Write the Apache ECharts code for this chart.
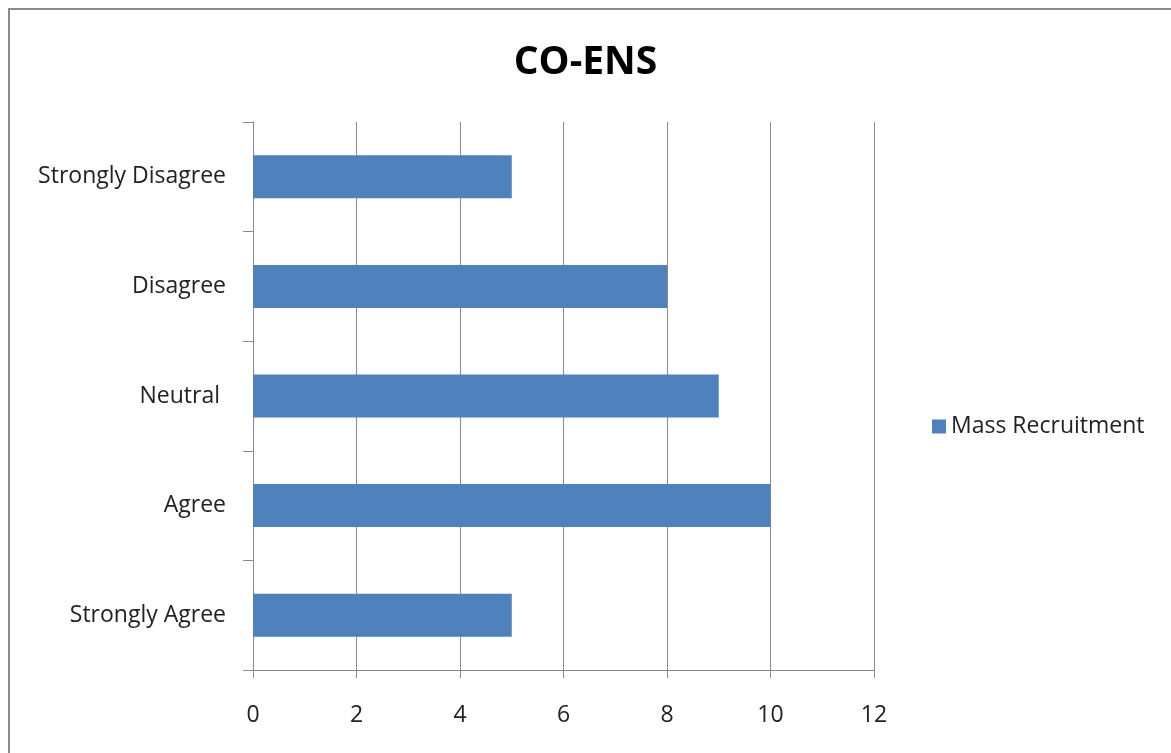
<!DOCTYPE html>
<html>
<head>
<meta charset="utf-8">
<script src="https://cdn.jsdelivr.net/npm/echarts@6/dist/echarts.min.js"></script>
<style>
  html, body { margin: 0; padding: 0; background: #fff; }
  #chart { width: 1171px; height: 753px; }
</style>
</head>
<body>
<div id="chart"></div>
<script>
const categories = ['Strongly Agree', 'Agree', 'Neutral ', 'Disagree', 'Strongly Disagree'];
const massRecruitment = [5, 10, 9, 8, 5];
const xMin = 0, xMax = 12, xStep = 2;

const font = '"Open Sans", Lato, sans-serif';
const gray = '#8a8a8a';

let chart = echarts.init(document.getElementById('chart'));
chart.setOption({
    animation: false,
    textStyle: { fontFamily: font },
    title: {
        text: 'CO-ENS',
        left: 'center',
        top: 38,
        textStyle: { fontSize: 39, fontWeight: 'bold', color: '#000', fontFamily: font }
    },
    graphic: [{
        type: 'rect',
        shape: { x: 9, y: 9, width: 1200, height: 800 },
        style: { fill: 'none', stroke: gray, lineWidth: 2 },
        silent: true
    }],
    legend: {
        left: 932,
        top: 415,
        padding: 0,
        itemWidth: 14,
        itemHeight: 14,
        itemGap: 7,
        icon: 'rect',
        textStyle: { fontSize: 23, color: '#222', fontFamily: font }
    },
    grid: { left: 253, right: 297, top: 122, bottom: 83, containLabel: false },
    xAxis: {
        type: 'value',
        min: xMin,
        max: xMax,
        interval: xStep,
        axisLine: { show: true, lineStyle: { color: gray } },
        axisTick: { show: true, length: 8, lineStyle: { color: gray } },
        splitLine: { show: true, lineStyle: { color: gray } },
        axisLabel: { fontSize: 23, color: '#222', margin: 34 }
    },
    yAxis: {
        type: 'category',
        data: categories,
        axisLine: { show: true, lineStyle: { color: gray } },
        axisTick: { show: true, length: 10, lineStyle: { color: gray } },
        axisLabel: { fontSize: 23, color: '#222', margin: 27, padding: [2, 0, 0, 0] }
    },
    series: [{
        name: 'Mass Recruitment',
        type: 'bar',
        data: massRecruitment,
        barWidth: 43,
        itemStyle: { color: '#4F81BD' }
    }]
});
</script>
</body>
</html>
